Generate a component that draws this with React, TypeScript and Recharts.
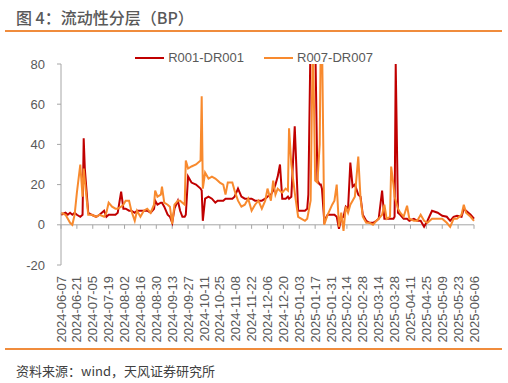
import { LineChart, Line, XAxis, YAxis, ReferenceLine, Legend } from "recharts";

const DATES = [
  "2024-06-07", "2024-06-11", "2024-06-13", "2024-06-15", "2024-06-17", "2024-06-19", "2024-06-21", "2024-06-24",
  "2024-06-26", "2024-06-27", "2024-06-28", "2024-07-01", "2024-07-04", "2024-07-08", "2024-07-11", "2024-07-15",
  "2024-07-17", "2024-07-19", "2024-07-22", "2024-07-25", "2024-07-27", "2024-07-30", "2024-08-01", "2024-08-03",
  "2024-08-06", "2024-08-08", "2024-08-11", "2024-08-13", "2024-08-16", "2024-08-19", "2024-08-22", "2024-08-25",
  "2024-08-28", "2024-08-29", "2024-08-31", "2024-09-03", "2024-09-04", "2024-09-06", "2024-09-09", "2024-09-11",
  "2024-09-13", "2024-09-15", "2024-09-18", "2024-09-20", "2024-09-22", "2024-09-24", "2024-09-25", "2024-09-27",
  "2024-09-30", "2024-10-04", "2024-10-08", "2024-10-09", "2024-10-10", "2024-10-12", "2024-10-15", "2024-10-18",
  "2024-10-21", "2024-10-23", "2024-10-25", "2024-10-28", "2024-10-30", "2024-11-01", "2024-11-05", "2024-11-07",
  "2024-11-10", "2024-11-13", "2024-11-16", "2024-11-19", "2024-11-22", "2024-11-25", "2024-11-28", "2024-12-01",
  "2024-12-04", "2024-12-06", "2024-12-09", "2024-12-11", "2024-12-13", "2024-12-15", "2024-12-17", "2024-12-19",
  "2024-12-22", "2024-12-24", "2024-12-25", "2024-12-27", "2024-12-30", "2025-01-02", "2025-01-05", "2025-01-08",
  "2025-01-10", "2025-01-11", "2025-01-13", "2025-01-15", "2025-01-17", "2025-01-19", "2025-01-21", "2025-01-22",
  "2025-01-23", "2025-01-25", "2025-01-28", "2025-02-01", "2025-02-03", "2025-02-05", "2025-02-07", "2025-02-09",
  "2025-02-11", "2025-02-13", "2025-02-15", "2025-02-17", "2025-02-19", "2025-02-21", "2025-02-24", "2025-02-26",
  "2025-02-28", "2025-03-03", "2025-03-06", "2025-03-09", "2025-03-12", "2025-03-14", "2025-03-17", "2025-03-19",
  "2025-03-21", "2025-03-24", "2025-03-25", "2025-03-27", "2025-03-28", "2025-03-29", "2025-03-31", "2025-04-02",
  "2025-04-05", "2025-04-08", "2025-04-10", "2025-04-14", "2025-04-17", "2025-04-20", "2025-04-23", "2025-04-26",
  "2025-04-30", "2025-05-05", "2025-05-09", "2025-05-13", "2025-05-16", "2025-05-19", "2025-05-22", "2025-05-26",
  "2025-05-28", "2025-05-30", "2025-06-03", "2025-06-06",
];

const R001 = [
  5, 6, 5, 6, 5, 6, 5, 4,
  5, 43, 28, 6, 5, 4, 5, 7,
  4, 5, 5, 5, 6, 16.5, 8, 8,
  7, 7, 6, 7, 7, 7, 7, 6,
  8, 12, 10, 11, 11, 9, 5, 4,
  1, 8, 12, 7, 4, 4, 5, 24,
  21, 20, 18, 17, 2, 13, 14, 13,
  11, 12, 12, 12, 13, 13, 13, 14,
  18, 14, 13, 13, 13, 12, 12, 12,
  13, 14, 15, 17, 20, 24, 30, 13,
  13, 14, 13, 14, 49, 7, 7, 7,
  8, 15, 95, 95, 95, 22, 20, 20,
  18, 2, 5, 5, 5, 4, -2, 3,
  4, 9, 8, 31, 19, 20, 15, 14,
  5, 2, 1, 1, 2, 3, 17, 3,
  3, 3, 3, 3, 4, 80, 6, 5,
  3, 3, 2, 3, 2, 2, -1, 2,
  7, 6, 4.5, 4, 2, 4, 4.5, 4,
  8, 7, 5, 3,
];

const R007 = [
  6, 5, 3, 1, 0, 5, 16, 30,
  14, 28, 22, 5, 5, 4, 5, 4,
  6, 11, 9, 8, 8, 9, 10, 12,
  12, 7, 2, 7, 4, 7, 8, 6,
  10, 17, 14, 15, 19, 11, 10, 9,
  0.5, 10, 12, 12, 11, 10, 32, 28,
  29, 30, 32, 64, 18, 26, 23, 24,
  23, 22, 21, 20, 15, 21, 21, 17,
  12, 9, 10, 13, 7, 10, 12, 8,
  12, 18, 12, 22, 15, 18, 17, 16,
  18, 17, 48, 30, 16, 4, 3, 2,
  3, 6, 12, 95, 22, 21, 40, 95,
  95, 0, 5, 10, 12, 20, -1, 6,
  -3, 9, 6, 10, 12, 14, 34, 13,
  4, 1, 1, 0, 2, 3, 5, 10,
  3, 4, 29, 20, 14, 12, 8, 6,
  4, 9.5, 3, 2, 2, 5, 2, 1,
  3, 3, 3, 1, -1, 3, 3, 5,
  10, 6, 4, 2,
];

const TICK_DATES = [
  "2024-06-07", "2024-06-21", "2024-07-05", "2024-07-19", "2024-08-02", "2024-08-16", "2024-08-30",
  "2024-09-13", "2024-09-27", "2024-10-11", "2024-10-25", "2024-11-08", "2024-11-22", "2024-12-06",
  "2024-12-20", "2025-01-03", "2025-01-17", "2025-01-31", "2025-02-14", "2025-02-28", "2025-03-14",
  "2025-03-28", "2025-04-11", "2025-04-25", "2025-05-09", "2025-05-23", "2025-06-06",
];

const Y_TICKS = [-20, 0, 20, 40, 60, 80];

const SERIES = [
  { key: "r001", name: "R001-DR001", color: "#C00000" },
  { key: "r007", name: "R007-DR007", color: "#F88A2E" },
];

const START = Date.parse(DATES[0]);
const dayOf = (s: string) => Math.round((Date.parse(s) - START) / 86400000);

const data = DATES.map((d, i) => ({ t: dayOf(d), date: d, r001: R001[i], r007: R007[i] }));
const tickDays = TICK_DATES.map(dayOf);

const FONT = '"Liberation Sans", Arial, "Noto Sans CJK SC", sans-serif';
const AXIS = "#A6A6A6";
const TEXT = "#595959";

function DateTick({ x, y, payload }: any) {
  const label = TICK_DATES[tickDays.indexOf(payload.value)] ?? "";
  return (
    <text
      x={x}
      y={y}
      dy="0.35em"
      transform={`rotate(-90, ${x}, ${y})`}
      textAnchor="end"
      fill={TEXT}
      fontSize={13}
      fontFamily={FONT}
    >
      {label}
    </text>
  );
}

function LegendContent() {
  return (
    <div style={{ display: "flex", justifyContent: "center", gap: 20, fontFamily: FONT, fontSize: 13, color: TEXT }}>
      {SERIES.map((s) => (
        <div key={s.key} style={{ display: "flex", alignItems: "center" }}>
          <span style={{ display: "inline-block", width: 29, height: 2, background: s.color, marginRight: 4 }} />
          <span>{s.name}</span>
        </div>
      ))}
    </div>
  );
}

export default function App() {
  return (
    <div style={{ position: "relative", width: 508, height: 383, background: "#fff", fontFamily: FONT }}>
      <style>{`body{margin:0}`}</style>
      <div
        style={{
          position: "absolute",
          left: 16,
          top: 6,
          fontSize: 16,
          fontWeight: 500,
          color: "#595959",
          fontFamily: '"Noto Sans CJK SC", sans-serif',
          lineHeight: "22px",
        }}
      >
        图 4：流动性分层（BP）
      </div>
      <div style={{ position: "absolute", left: 5, top: 30, width: 497, height: 2, background: "#F08C3C" }} />

      <LineChart
        width={508}
        height={383}
        data={data}
        margin={{ top: 64, right: 34, bottom: 38, left: 0 }}
        style={{ position: "absolute", left: 0, top: 0 }}
      >
        <XAxis
          type="number"
          dataKey="t"
          domain={[0, 364]}
          ticks={tickDays}
          interval={0}
          axisLine={false}
          tickLine={false}
          tickSize={6}
          tickMargin={5}
          height={80}
          tick={<DateTick />}
        />
        <YAxis
          type="number"
          domain={[-20, 80]}
          ticks={Y_TICKS}
          allowDataOverflow
          width={61}
          axisLine={{ stroke: AXIS }}
          tickLine={{ stroke: AXIS }}
          tickSize={4}
          tickMargin={12}
          tick={{ fill: TEXT, fontSize: 13, fontFamily: FONT }}
        />
        <ReferenceLine y={0} stroke={AXIS} strokeWidth={1} />
        {tickDays.map((t) => (
          <ReferenceLine
            key={t}
            segment={[
              { x: t, y: 0 },
              { x: t, y: -2 },
            ]}
            stroke={AXIS}
            strokeWidth={1}
          />
        ))}
        <Legend
          layout="horizontal"
          align="center"
          verticalAlign="middle"
          wrapperStyle={{ top: 50, left: 0, width: 508 }}
          content={<LegendContent />}
        />
        {SERIES.map((s) => (
          <Line
            key={s.key}
            type="linear"
            dataKey={s.key}
            name={s.name}
            stroke={s.color}
            strokeWidth={2}
            dot={false}
            isAnimationActive={false}
          />
        ))}
      </LineChart>

      <div style={{ position: "absolute", left: 5, top: 348, width: 497, height: 2, background: "#F08C3C" }} />
      <div
        style={{
          position: "absolute",
          left: 16,
          top: 362,
          fontSize: 13,
          color: "#404040",
          fontFamily: '"Noto Sans CJK SC", sans-serif',
          lineHeight: "18px",
        }}
      >
        资料来源：wind，天风证券研究所
      </div>
    </div>
  );
}
